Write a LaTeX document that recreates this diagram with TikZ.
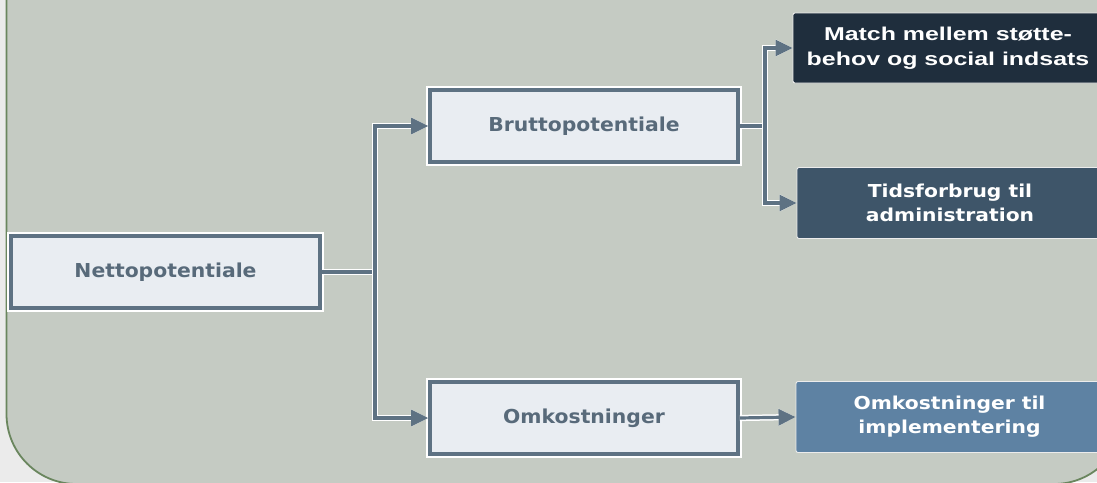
\documentclass[tikz,border=0pt]{standalone}
\usepackage{fontspec}
\usetikzlibrary{arrows.meta}
\newfontfamily\lightfont[FakeStretch=1.06]{DejaVu Sans Bold}
\newfontfamily\midfont[FakeStretch=1.14]{DejaVu Sans Bold}
\newfontfamily\darkfont[FakeStretch=1.34]{Liberation Sans Bold}
\definecolor{pagebg}{HTML}{EBEBEB}
\definecolor{panelfill}{HTML}{C5CBC3}
\definecolor{panelline}{HTML}{6A865E}
\definecolor{boxfill}{HTML}{E9EDF2}
\definecolor{boxline}{HTML}{5E7283}
\definecolor{boxtext}{HTML}{586A7A}
\definecolor{darkA}{HTML}{1F2E3D}
\definecolor{darkB}{HTML}{3E5569}
\definecolor{darkC}{HTML}{5E82A3}
\tikzset{
  lightbox/.style={draw=boxline, line width=3.6pt, fill=boxfill,
    preaction={draw=white, line width=7.4pt},
    minimum height=72pt, inner sep=0pt, text=boxtext,
    font=\lightfont\fontsize{19.2}{23}\selectfont},
  darkbox/.style={draw=white!85!gray, line width=0.9pt, rounded corners=2pt,
    minimum height=71pt, inner sep=0pt, text=white, align=center,
    font=\midfont\fontsize{17.8}{24}\selectfont},
  link/.style={draw=boxline, line width=3.2pt,
    preaction={draw=white, line width=6.2pt}},
  tip/.style={-{Triangle[length=17pt,width=16pt]}}
}
\begin{document}
\begin{tikzpicture}[x=1pt,y=-1pt]
  % page and panel
  \useasboundingbox (0,0) rectangle (1097,482);
  \fill[pagebg] (0,0) rectangle (1097,482);
  \begin{scope}
    \clip (0,0) rectangle (1097,482);
    \draw[panelline, line width=1.8pt, fill=panelfill, rounded corners=70pt]
      (6.5,-100) rectangle (1124,484);
  \end{scope}

  % boxes
  \node[lightbox, minimum width=309pt] (net) at (165.5,272) {Nettopotentiale};
  \node[lightbox, minimum width=308pt] (brut) at (584,126) {Bruttopotentiale};
  \node[lightbox, minimum width=308pt] (omk) at (584,418) {Omkostninger};

  \node[darkbox, fill=darkA, minimum width=310pt, minimum height=70pt,
        font=\darkfont\fontsize{18.6}{25.5}\selectfont] (match) at (948,48)
    {Match mellem støtte-\\behov og social indsats};
  \node[darkbox, fill=darkB, minimum width=306pt] (tids) at (950,203)
    {Tidsforbrug til\\administration};
  \node[darkbox, fill=darkC, minimum width=307pt] (impl) at (949.5,417)
    {Omkostninger til\\implementering};

  % junctions
  \coordinate (j1) at (375,272);
  \coordinate (j2) at (765,126);

  % connectors
  \draw[link] (net.east) -- (j1);
  \draw[link, tip] (j1) |- (brut.west);
  \draw[link, tip] (j1) |- (omk.west);
  \draw[link] (brut.east) -- (j2);
  \draw[link, tip] (j2) |- (match.west);
  \draw[link, tip] (j2) |- (tids.west);
  \draw[link, tip] (omk.east) -- (impl.west);
\end{tikzpicture}
\end{document}
